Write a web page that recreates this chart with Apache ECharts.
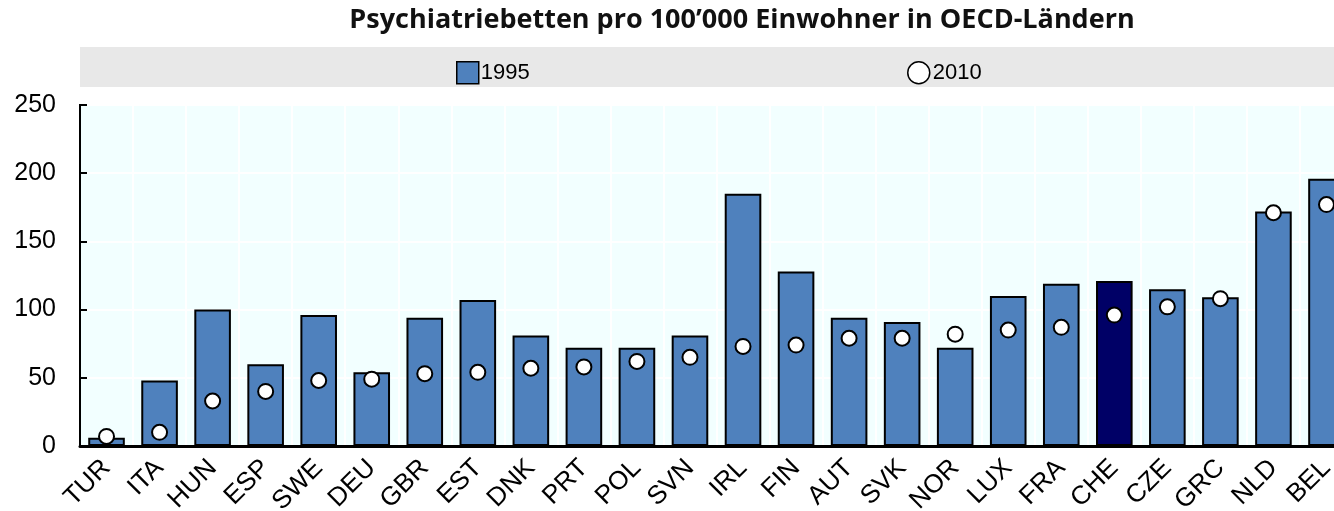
<!DOCTYPE html>
<html>
<head>
<meta charset="utf-8">
<script src="https://cdn.jsdelivr.net/npm/echarts@6/dist/echarts.min.js"></script>
<style>
  html, body { margin: 0; padding: 0; background: #fff; overflow: hidden; }
  #chart { width: 1334px; height: 511px; }
</style>
</head>
<body>
<div id="chart"></div>
<script>
// Länder (Reihenfolge wie im Original)
const countries = ['TUR', 'ITA', 'HUN', 'ESP', 'SWE', 'DEU', 'GBR', 'EST', 'DNK', 'PRT', 'POL', 'SVN',
  'IRL', 'FIN', 'AUT', 'SVK', 'NOR', 'LUX', 'FRA', 'CHE', 'CZE', 'GRC', 'NLD', 'BEL']
// Betten pro 100'000 Einwohner
const beds1995 = [6, 48, 100, 60, 96, 54, 94, 107, 81, 72, 72, 81,
  185, 128, 94, 91, 72, 110, 119, 121, 115, 109, 172, 196]
const beds2010 = [7, 10, 33, 40, 48, 49, 53, 54, 57, 58, 62, 65,
  73, 74, 79, 79, 82, 85, 87, 96, 102, 108, 171, 177]
const yTicks = [0, 50, 100, 150, 200, 250]
const highlight = 'CHE'

const myChart = echarts.init(document.getElementById('chart'))

const font = 'Arial, "Liberation Sans", sans-serif'

myChart.setOption({
  animation: false,
  textStyle: { fontFamily: font, color: '#000' },
  title: {
    text: 'Psychiatriebetten pro 100’000 Einwohner in OECD-Ländern',
    left: 737,
    top: 2,
    textAlign: 'center',
    textStyle: { fontFamily: '"Open Sans", sans-serif', fontWeight: 'bold', fontSize: 27, color: '#111' }
  },
  // grauer Legendenbalken
  graphic: [{
    type: 'rect',
    z: -1,
    shape: { x: 80, y: 47, width: 1260, height: 40 },
    style: { fill: '#e8e8e8' }
  }],
  legend: [
    {
      data: ['1995'], left: 451, top: 56,
      icon: 'rect',
      itemWidth: 22, itemHeight: 22, itemGap: 2,
      textStyle: { fontSize: 22, fontFamily: font, color: '#000', padding: [0, 0, 0, -3] },
      itemStyle: { color: '#4f81bd', borderColor: '#000', borderWidth: 1.5 }
    },
    {
      data: ['2010'], left: 902, top: 56,
      icon: 'circle',
      itemWidth: 24, itemHeight: 22,
      textStyle: { fontSize: 22, fontFamily: font, color: '#000', padding: [0, 0, 0, -3] },
      itemStyle: { color: '#fff', borderColor: '#000', borderWidth: 1.5 }
    }
  ],
  grid: {
    left: 80, right: -19, top: 105, bottom: 65,
    outerBoundsMode: 'none',
    containLabel: false,
    show: true,
    backgroundColor: '#f2ffff',
    borderColor: '#000',
    borderWidth: 2
  },
  xAxis: {
    type: 'category',
    data: countries,
    axisLine: { lineStyle: { color: '#000', width: 3 } },
    axisTick: { show: false },
    splitLine: { show: true, interval: 0, lineStyle: { color: '#ffffff', width: 2 } },
    axisLabel: { rotate: 45, fontSize: 26, margin: 18, color: '#000', interval: 0 }
  },
  yAxis: {
    type: 'value',
    min: yTicks[0],
    max: yTicks[yTicks.length - 1],
    interval: 50,
    axisLine: { show: true, lineStyle: { color: '#000', width: 2 } },
    axisTick: { show: true, inside: true, length: 7, lineStyle: { color: '#000', width: 2 } },
    splitLine: { show: true, lineStyle: { color: '#ffffff', width: 2 } },
    axisLabel: { fontSize: 25, margin: 24, color: '#000' }
  },
  series: [
    {
      name: '1995',
      type: 'bar',
      barCategoryGap: '31%',
      data: beds1995.map((v, i) => ({
        value: v,
        itemStyle: countries[i] === highlight ? { color: '#000066' } : undefined
      })),
      itemStyle: { color: '#4f81bd', borderColor: '#000', borderWidth: 2 }
    },
    {
      name: '2010',
      type: 'scatter',
      symbol: 'circle',
      symbolSize: 15,
      data: beds2010,
      z: 3,
      itemStyle: { color: '#fff', borderColor: '#000', borderWidth: 2, opacity: 1 }
    }
  ]
})
</script>
</body>
</html>
